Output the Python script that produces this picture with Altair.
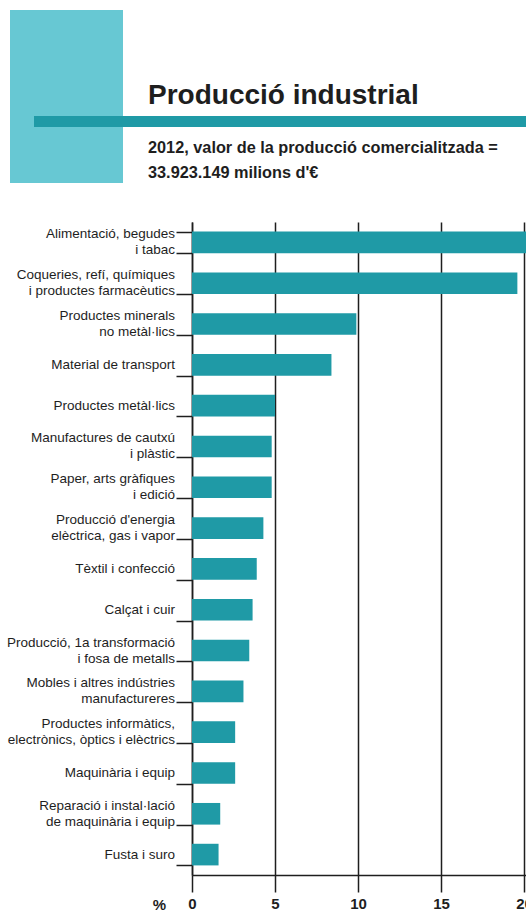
import altair as alt
import pandas as pd

categories = [
    "Alimentació, begudes|i tabac",
    "Coqueries, refí, químiques|i productes farmacèutics",
    "Productes minerals|no metàl·lics",
    "Material de transport",
    "Productes metàl·lics",
    "Manufactures de cautxú|i plàstic",
    "Paper, arts gràfiques|i edició",
    "Producció d'energia|elèctrica, gas i vapor",
    "Tèxtil i confecció",
    "Calçat i cuir",
    "Producció, 1a transformació|i fosa de metalls",
    "Mobles i altres indústries|manufactureres",
    "Productes informàtics,|electrònics, òptics i elèctrics",
    "Maquinària i equip",
    "Reparació i instal·lació|de maquinària i equip",
    "Fusta i suro",
]
values = [20.7, 19.6, 9.9, 8.4, 5.0, 4.8, 4.8, 4.3, 3.9, 3.65, 3.45, 3.1, 2.6, 2.6, 1.7, 1.6]
x_ticks = [0, 5, 10, 15, 20]

title_text = "Producció industrial"
subtitle_lines = ["2012, valor de la producció comercialitzada =", "33.923.149 milions d'€"]

FONT = "Liberation Sans, Arial, sans-serif"
TEAL = "#1F9AA6"
LIGHT = "#67C8D3"
INK = "#1E1E1E"

df = pd.DataFrame({"cat": categories, "val": values})

yscale = alt.Scale(domain=categories, paddingInner=0.47, paddingOuter=0.235)

bars = alt.Chart(df).mark_bar(color=TEAL).encode(
    x=alt.X(
        "val:Q",
        scale=alt.Scale(domain=[0, 20.12], nice=False, zero=True),
        axis=alt.Axis(
            values=x_ticks,
            title="%",
            titleX=-33,
            titleY=29,
            titleAlign="center",
            titleBaseline="middle",
            titleFont=FONT,
            titleFontSize=15,
            titleFontWeight="bold",
            titleColor=INK,
            grid=True,
            gridColor=INK,
            gridWidth=1.5,
            tickSize=17,
            tickColor=INK,
            tickWidth=1.5,
            domainColor=INK,
            domainWidth=1.5,
            labelFont=FONT,
            labelFontSize=15,
            labelFontWeight="bold",
            labelColor=INK,
            labelPadding=4,
            labelBaseline="top",
            labelFlush=False,
            labelOverlap=False,
        ),
    ),
    y=alt.Y(
        "cat:N",
        sort=categories,
        scale=yscale,
        axis=alt.Axis(
            title=None,
            grid=False,
            labels=False,
            tickBand="extent",
            tickSize=16,
            tickColor=INK,
            tickWidth=1.5,
            domainColor=INK,
            domainWidth=1.5,
        ),
    ),
)

label_single = alt.Chart(df).transform_filter(
    "indexof(datum.cat, '|') < 0"
).mark_text(
    font=FONT, fontSize=13.5, color=INK, align="right", baseline="middle"
).encode(
    y=alt.Y("cat:N", sort=categories, scale=yscale),
    x=alt.value(-17),
    text="cat:N",
)

label_double = alt.Chart(df).transform_filter(
    "indexof(datum.cat, '|') >= 0"
).mark_text(
    font=FONT, fontSize=13.5, color=INK, align="right", baseline="middle",
    lineBreak="|", lineHeight=16, dy=-8
).encode(
    y=alt.Y("cat:N", sort=categories, scale=yscale),
    x=alt.value(-17),
    text="cat:N",
)

one = alt.Data(values=[{"k": 1}])

rect = alt.Chart(one).mark_rect(color=LIGHT).encode(
    x=alt.value(-182), x2=alt.value(-69), y=alt.value(-212), y2=alt.value(-39)
)
band = alt.Chart(one).mark_rect(color=TEAL).encode(
    x=alt.value(-158), x2=alt.value(334), y=alt.value(-106), y2=alt.value(-95)
)
title = alt.Chart(one).mark_text(
    text=title_text, font=FONT, fontSize=28, fontWeight="bold", color=INK,
    align="left", baseline="alphabetic"
).encode(x=alt.value(-44), y=alt.value(-118))
sub1 = alt.Chart(one).mark_text(
    text=subtitle_lines[0], font=FONT, fontSize=16.3, fontWeight="bold", color=INK,
    align="left", baseline="alphabetic"
).encode(x=alt.value(-44), y=alt.value(-69))
sub2 = alt.Chart(one).mark_text(
    text=subtitle_lines[1], font=FONT, fontSize=16.3, fontWeight="bold", color=INK,
    align="left", baseline="alphabetic"
).encode(x=alt.value(-44), y=alt.value(-44))

chart = alt.layer(rect, band, title, sub1, sub2, bars, label_single, label_double).properties(
    width=334,
    height=653,
    autosize=alt.AutoSizeParams(type="none"),
    padding={"left": 192, "top": 222, "right": 0, "bottom": 36},
    background="white",
).configure_view(stroke=None)

chart.save("out.html", embed_options={"renderer": "svg", "actions": False})
